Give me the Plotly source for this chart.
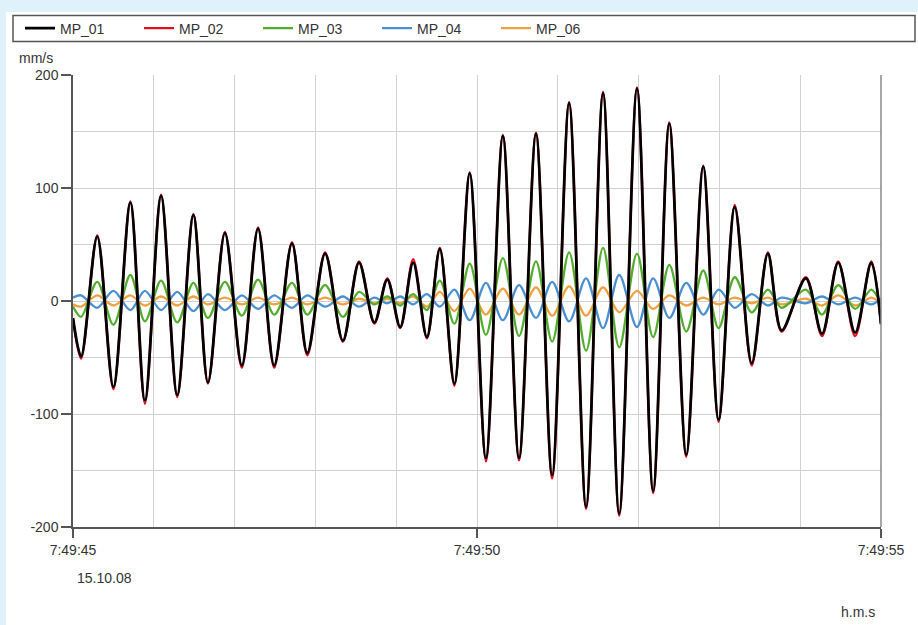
import plotly.graph_objects as go

# Time of each extremum, seconds after 7:49:45 (15.10.08)
t_ext = [0.00, 0.10, 0.30, 0.50, 0.71, 0.89, 1.09, 1.29, 1.49, 1.67,
         1.88, 2.09, 2.29, 2.49, 2.71, 2.90, 3.12, 3.34, 3.54, 3.73,
         3.89, 4.05, 4.21, 4.38, 4.54, 4.72, 4.91, 5.11, 5.32, 5.52,
         5.73, 5.93, 6.14, 6.35, 6.56, 6.76, 6.98, 7.18, 7.38, 7.59,
         7.80, 7.99, 8.19, 8.40, 8.60, 8.77, 9.07, 9.27, 9.47, 9.68,
         9.88, 10.00]

mp_01 = [-15, -49, 57, -76, 87, -88, 93, -83, 76, -72,
         60, -57, 64, -57, 51, -46, 42, -35, 34, -19,
         19, -23, 34, -32, 46, -73, 113, -139, 146, -139,
         148, -154, 175, -182, 184, -188, 188, -168, 157, -136,
         119, -105, 83, -55, 42, -26, 20, -29, 34, -28,
         34, -20]

mp_02 = [-16, -51, 58, -78, 88, -91, 94, -85, 77, -73,
         61, -59, 65, -59, 52, -48, 43, -36, 35, -20,
         20, -24, 37, -33, 47, -75, 114, -142, 147, -141,
         149, -157, 176, -184, 185, -190, 189, -170, 158, -138,
         120, -107, 85, -57, 43, -27, 21, -31, 35, -31,
         35, -21]

mp_03 = [-5, -14, 17, -21, 23, -18, 18, -19, 16, -15,
         17, -13, 19, -12, 16, -12, 14, -14, 8, -3,
         4, -4, 6, -8, 18, -20, 33, -30, 38, -31,
         35, -36, 43, -44, 47, -41, 42, -32, 32, -27,
         27, -24, 21, -10, 10, -6, 10, -12, 14, -7,
         10, -3]

mp_04 = [3, 5, -6, 9, -8, 9, -8, 8, -9, 6,
         -8, 5, -7, 5, -6, 5, -5, 4, -5, 3,
         -2, 4, -3, 6, -5, 10, -17, 16, -17, 14,
         -15, 17, -18, 20, -24, 23, -23, 20, -15, 16,
         -12, 10, -6, 6, -4, 3, -2, 4, -3, 3,
         -3, 2]

mp_06 = [-3, -5, 5, -4, 5, -4, 4, -4, 4, -3,
         3, -3, 3, -3, 3, -3, 3, -3, 2, -2,
         2, -2, 4, -5, 8, -9, 11, -12, 11, -12,
         12, -13, 13, -13, 12, -10, 9, -7, 5, -4,
         3, -3, 3, -2, 3, -3, 2, -4, 5, -4,
         3, -2]

x_tick_vals = [0, 5, 10]
x_tick_text = ["7:49:45", "7:49:50", "7:49:55"]
y_tick_vals = [-200, -100, 0, 100, 200]
y_tick_text = ["-200", "-100", "0", "100", "200"]

FONT = "Liberation Sans, Arial, sans-serif"
TXT = "#333333"

W, H = 918, 625
L, R, T, B = 73, 881, 75, 527


def px(xp):
    return (xp - L) / (R - L)


def py(yp):
    return (B - yp) / (B - T)


fig = go.Figure()
series = [
    ("MP_06", mp_06, "#f0a040", 2.3),
    ("MP_04", mp_04, "#4a90d0", 2.3),
    ("MP_03", mp_03, "#52ad2c", 2.3),
    ("MP_02", mp_02, "#e01020", 2.4),
    ("MP_01", mp_01, "#000000", 2.8),
]
for name, vals, col, wd in series:
    fig.add_trace(go.Scatter(
        x=t_ext, y=vals, name=name, mode="lines",
        line=dict(color=col, width=wd, shape="spline", smoothing=0.9),
    ))

shapes = [
    dict(type="rect", xref="paper", yref="paper", x0=px(6), x1=px(918),
         y0=py(625), y1=py(12), fillcolor="white", line=dict(width=0),
         layer="below"),
    dict(type="rect", xref="paper", yref="paper", x0=px(13), x1=px(915),
         y0=py(41.5), y1=py(15.5), fillcolor="rgba(0,0,0,0)",
         line=dict(color="#555555", width=1.5)),
    dict(type="line", xref="paper", yref="paper", x0=1, x1=1, y0=0, y1=1,
         line=dict(color="#888888", width=1.5)),
]

ann_font = dict(family=FONT, size=14, color=TXT)
annotations = [
    dict(text="mm/s", xref="paper", yref="paper", x=px(36), y=py(58),
         xanchor="center", yanchor="middle", showarrow=False, font=ann_font),
    dict(text="15.10.08", xref="paper", yref="paper", x=px(75), y=py(578),
         xanchor="left", yanchor="middle", showarrow=False, font=ann_font),
    dict(text="h.m.s", xref="paper", yref="paper", x=px(858), y=py(612),
         xanchor="center", yanchor="middle", showarrow=False, font=ann_font),
]

fig.update_layout(
    width=W, height=H,
    margin=dict(l=L, r=W - R, t=T, b=H - B, pad=0),
    paper_bgcolor="#dff1fb",
    plot_bgcolor="white",
    font=dict(family=FONT, size=14, color=TXT),
    showlegend=True,
    legend=dict(
        orientation="h", traceorder="reversed",
        xref="container", yref="container",
        x=20 / W, y=1 - 28.5 / H, xanchor="left", yanchor="middle",
        bgcolor="rgba(0,0,0,0)", borderwidth=0,
        entrywidth=74, entrywidthmode="pixels",
        font=dict(family=FONT, size=14, color=TXT),
        itemclick=False,
    ),
    shapes=shapes,
    annotations=annotations,
    xaxis=dict(
        range=[0, 10], tickvals=x_tick_vals, ticktext=x_tick_text,
        showgrid=True, gridcolor="#d0d0d0", gridwidth=1,
        minor=dict(dtick=1, tick0=0, showgrid=True, gridcolor="#d0d0d0",
                   gridwidth=1, ticks=""),
        showline=True, linecolor="#555555", linewidth=2,
        ticks="outside", ticklen=9, tickcolor="#555555", tickwidth=1.5,
        zeroline=False, fixedrange=True,
        tickfont=dict(family=FONT, size=14, color=TXT),
    ),
    yaxis=dict(
        range=[-200, 200], tickvals=y_tick_vals, ticktext=y_tick_text,
        showgrid=True, gridcolor="#d0d0d0", gridwidth=1,
        minor=dict(dtick=50, tick0=0, showgrid=True, gridcolor="#d0d0d0",
                   gridwidth=1, ticks=""),
        showline=True, linecolor="#555555", linewidth=1.5,
        ticks="outside", ticklen=10, tickcolor="#555555", tickwidth=1.5,
        zeroline=False, fixedrange=True,
        tickfont=dict(family=FONT, size=14, color=TXT),
    ),
)

fig.write_html("out.html", config={"displayModeBar": False},
               post_script="document.body.style.margin='0px';")
